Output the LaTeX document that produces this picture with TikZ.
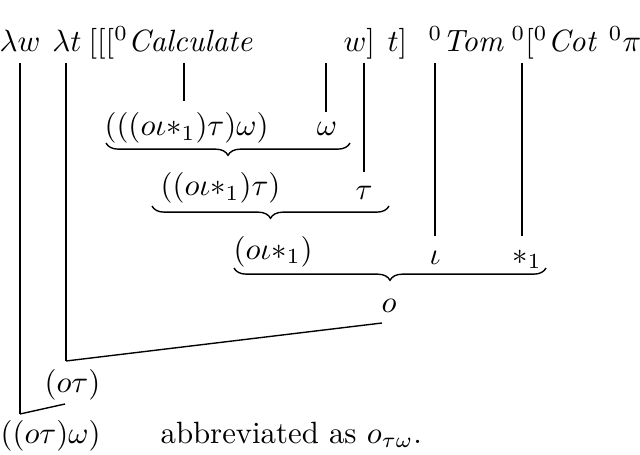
\documentclass[tikz,border=0pt]{standalone}
\usetikzlibrary{decorations.pathreplacing}
\begin{document}
\begin{tikzpicture}[x=0.325pt,y=-0.325pt,
  lbl/.style={inner sep=0pt,anchor=base},
  ln/.style={line width=0.45pt},
  br/.style={decorate,decoration={brace,mirror,amplitude=4pt},line width=0.45pt}]
\useasboundingbox (0,0) rectangle (640,455);
% top row
\node[lbl] (lw) at (20,52) {$\lambda w$};
\node[lbl] (lt) at (67,52) {$\lambda t$};
\node[lbl,anchor=base west] (calc) at (88,52) {$[[[^0\mathit{Calculate}$};
\node[lbl,anchor=base west] (w) at (343,52) {$w]$};
\node[lbl,anchor=base west] (t) at (387,52) {$t]$};
\node[lbl,anchor=base west] (tom) at (428,52) {$^0\mathit{Tom}$};
\node[lbl,anchor=base west] (cot) at (511,52) {$^0[^0\mathit{Cot}\ ^0\pi]]$};
% coordinates
\coordinate (a1) at (20,63); \coordinate (a2) at (20,414);
\coordinate (b1) at (66,63); \coordinate (b2) at (66,361);
\coordinate (c1) at (184,63); \coordinate (c2) at (184,101);
\coordinate (d1) at (326,63); \coordinate (d2) at (326,112);
\coordinate (e1) at (364,63); \coordinate (e2) at (364,172);
\coordinate (f1) at (435,63); \coordinate (f2) at (435,236);
\coordinate (g1) at (522,63); \coordinate (g2) at (522,236);
\draw[ln] (a1) -- (a2);
\draw[ln] (b1) -- (b2);
\draw[ln] (c1) -- (c2);
\draw[ln] (d1) -- (d2);
\draw[ln] (e1) -- (e2);
\draw[ln] (f1) -- (f2);
\draw[ln] (g1) -- (g2);
% level 1
\node[lbl,anchor=base west] (l1) at (104,136) {$(((o\iota{*_1})\tau)\omega)$};
\node[lbl] (om) at (327,136) {$\omega$};
\coordinate (br1a) at (106,143); \coordinate (br1b) at (350,143);
\draw[br] (br1a) -- (br1b);
% level 2
\node[lbl,anchor=base west] (l2) at (160,196) {$((o\iota{*_1})\tau)$};
\node[lbl] (ta) at (364,199) {$\tau$};
\coordinate (br2a) at (152,206); \coordinate (br2b) at (389,206);
\draw[br] (br2a) -- (br2b);
% level 3
\node[lbl,anchor=base west] (l3) at (233,259) {$(o\iota{*_1})$};
\node[lbl] (io) at (435,264) {$\iota$};
\node[lbl] (st) at (527,264) {${*_1}$};
\coordinate (br3a) at (234,268); \coordinate (br3b) at (546,268);
\draw[br] (br3a) -- (br3b);
% o
\node[lbl] (o) at (389,312) {$o$};
\coordinate (o1) at (382,323);
\draw[ln] (b2) -- (o1);
% (o tau)
\node[lbl,anchor=base west] (ot) at (44,392) {$(o\tau)$};
\coordinate (ot1) at (65,404);
\draw[ln] (a2) -- (ot1);
% bottom
\node[lbl,anchor=base west] (otw) at (0,443) {$((o\tau)\omega)$};
\node[lbl,anchor=base west] (abbr) at (160,443) {abbreviated as $o_{\tau\omega}$.};
\end{tikzpicture}
\end{document}
